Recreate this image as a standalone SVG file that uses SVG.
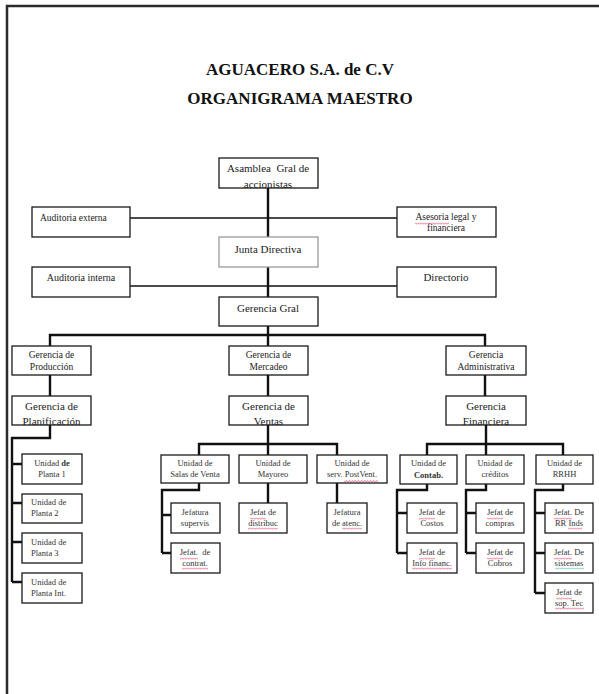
<svg xmlns="http://www.w3.org/2000/svg" width="599" height="694" viewBox="0 0 599 694">
<style>
.box{fill:#fff;stroke:#1a1a1a;stroke-width:1.3}
.gray{stroke:#9a9a9a}
.t{font-family:"Liberation Serif","Times New Roman",serif;fill:#222;text-anchor:middle}
.l{text-anchor:start}
.f8{font-size:8.5px;fill:#333}
.f9{font-size:9.5px}
.f10{font-size:10px}
.f11{font-size:11px}
.title{font-family:"Liberation Serif","Times New Roman",serif;font-weight:bold;font-size:17px;fill:#111;text-anchor:middle}
.c{fill:none;stroke:#111;stroke-width:2.4}
.thin{stroke-width:1.3}
.sq{fill:url(#wv)}
.sqg{fill:url(#wg)}
</style>
<defs>
<pattern id="wv" x="0" y="0" width="3" height="2.5" patternUnits="userSpaceOnUse"><path d="M0,2 L1.5,0.5 L3,2" fill="none" stroke="#e0285a" stroke-width="0.7"/></pattern>
<pattern id="wg" x="0" y="0" width="3" height="2.5" patternUnits="userSpaceOnUse"><path d="M0,2 L1.5,0.5 L3,2" fill="none" stroke="#20b0a0" stroke-width="0.7"/></pattern>
<clipPath id="cA"><rect x="219" y="158" width="99" height="30"/></clipPath>
<clipPath id="cP"><rect x="12" y="396" width="79" height="29"/></clipPath>
<clipPath id="cV"><rect x="229" y="396" width="79" height="29"/></clipPath>
<clipPath id="cF"><rect x="446" y="396" width="80" height="29"/></clipPath>
</defs>
<rect width="599" height="694" fill="#fff"/>
<path d="M7,694 V6 H599" fill="none" stroke="#2a2a2a" stroke-width="2.5"/>
<g id="title">
<text class="title" x="300" y="75">AGUACERO S.A. de C.V</text>
<text class="title" x="300" y="104">ORGANIGRAMA MAESTRO</text>
</g>
<g id="connectors">
<path class="c thin" d="M130,218 H397 M130,286 H397"/>
<path class="c" d="M268,188 V237 M268,267 V297 M268,326 V335 M50,346 V335 H485 V346 M268,335 V346"/>
<path class="c" d="M50,375 V396 M268,375 V396 M485,375 V396"/>
<path class="c" d="M50,425 V438 H12 V582 M12,464 H22 M12,503 H22 M12,542 H22 M12,582 H22"/>
<path class="c" d="M268,425 V444 M199,455 V444 H337 V455 M268,444 V455"/>
<path class="c" d="M199,483 V490 H162 V553 M162,515 H171 M162,553 H171 M268,483 V503 M337,483 V503"/>
<path class="c" d="M486,425 V444 M427,455 V444 H563 V455 M486,444 V455"/>
<path class="c" d="M427,484 V490 H397 V553 M397,513 H407 M397,553 H407"/>
<path class="c" d="M486,484 V490 H466 V553 M466,513 H476 M466,553 H476"/>
<path class="c" d="M563,484 V490 H535 V593 M535,513 H545 M535,553 H545 M535,593 H545"/>
</g>
<g id="asamblea"><rect class="box" x="219" y="158" width="99" height="30"/><g clip-path="url(#cA)"><text class="t f11" x="268" y="172" xml:space="preserve">Asamblea  Gral de</text><text class="t f11" x="268" y="188">accionistas</text></g></g>
<g id="auditoria-externa"><rect class="box" x="32" y="207" width="98" height="30"/><text class="t l f9" x="40" y="221">Auditoria externa</text></g>
<g id="asesoria"><rect class="box" x="397" y="207" width="99" height="30"/><text class="t f9" x="446" y="220">Asesoria legal y</text><text class="t f9" x="446" y="231">financiera</text><rect class="sq" x="415" y="222.5" width="34" height="2.5"/></g>
<g id="junta"><rect class="box gray" x="219" y="237" width="99" height="30"/><text class="t f11" x="268" y="253">Junta Directiva</text></g>
<g id="auditoria-interna"><rect class="box" x="32" y="267" width="98" height="30"/><text class="t f10" x="81" y="281">Auditoria interna</text></g>
<g id="directorio"><rect class="box" x="397" y="267" width="99" height="30"/><text class="t f11" x="446" y="281">Directorio</text></g>
<g id="gerencia-gral"><rect class="box" x="219" y="297" width="99" height="29"/><text class="t f11" x="268" y="312">Gerencia Gral</text></g>
<g id="produccion"><rect class="box" x="12" y="346" width="79" height="29"/><text class="t f9" x="51.5" y="358">Gerencia de</text><text class="t f9" x="51.5" y="370">Producción</text></g>
<g id="mercadeo"><rect class="box" x="229" y="346" width="79" height="29"/><text class="t f9" x="268.5" y="358">Gerencia de</text><text class="t f9" x="268.5" y="370">Mercadeo</text></g>
<g id="administrativa"><rect class="box" x="446" y="346" width="80" height="29"/><text class="t f9" x="486" y="358">Gerencia</text><text class="t f9" x="486" y="370">Administrativa</text></g>
<g id="planificacion"><rect class="box" x="12" y="396" width="79" height="29"/><g clip-path="url(#cP)"><text class="t f11" x="51.5" y="410">Gerencia de</text><text class="t f11" x="51.5" y="425">Planificación</text></g></g>
<g id="ventas"><rect class="box" x="229" y="396" width="79" height="29"/><g clip-path="url(#cV)"><text class="t f11" x="268.5" y="410">Gerencia de</text><text class="t f11" x="268.5" y="425">Ventas</text></g></g>
<g id="financiera"><rect class="box" x="446" y="396" width="80" height="29"/><g clip-path="url(#cF)"><text class="t f11" x="486" y="410">Gerencia</text><text class="t f11" x="486" y="425">Financiera</text></g></g>
<g id="planta1"><rect class="box" x="22" y="454" width="60" height="30"/><text class="t f8" x="52" y="466">Unidad <tspan font-weight="bold">de</tspan></text><text class="t f8" x="52" y="477">Planta 1</text></g>
<g id="planta2"><rect class="box" x="22" y="494" width="60" height="29"/><text class="t l f8" x="31" y="505">Unidad de</text><text class="t l f8" x="31" y="516">Planta 2</text></g>
<g id="planta3"><rect class="box" x="22" y="533" width="60" height="30"/><text class="t l f8" x="31" y="545">Unidad de</text><text class="t l f8" x="31" y="556">Planta 3</text></g>
<g id="planta-int"><rect class="box" x="22" y="573" width="60" height="30"/><text class="t l f8" x="31" y="585">Unidad de</text><text class="t l f8" x="31" y="596">Planta Int.</text></g>
<g id="salas"><rect class="box" x="161" y="455" width="68" height="28"/><text class="t f8" x="195" y="466">Unidad de</text><text class="t f8" x="195" y="477">Salas de Venta</text></g>
<g id="mayoreo"><rect class="box" x="239" y="455" width="68" height="28"/><text class="t f8" x="273" y="466">Unidad de</text><text class="t f8" x="273" y="477">Mayoreo</text></g>
<g id="postventa"><rect class="box" x="317" y="455" width="70" height="28"/><text class="t f8" x="352" y="466">Unidad de</text><text class="t f8" x="352" y="477">serv. PostVent.</text><rect class="sq" x="344" y="480" width="34" height="2.5"/></g>
<g id="supervis"><rect class="box" x="171" y="503" width="49" height="30"/><text class="t f8" x="195" y="515">Jefatura</text><text class="t f8" x="195" y="526">supervis</text></g>
<g id="contrat"><rect class="box" x="171" y="543" width="49" height="30"/><text class="t f8" x="195" y="555" xml:space="preserve">Jefat.  de</text><text class="t f8" x="195" y="566">contrat.</text><rect class="sq" x="180" y="557.5" width="18" height="2.5"/><rect class="sq" x="182" y="567.5" width="26" height="2.5"/></g>
<g id="distribuc"><rect class="box" x="239" y="503" width="48" height="30"/><text class="t f8" x="263" y="515">Jefat de</text><text class="t f8" x="263" y="526">distribuc</text><rect class="sq" x="250" y="517.5" width="16" height="2.5"/><rect class="sq" x="248" y="527.5" width="30" height="2.5"/></g>
<g id="atenc"><rect class="box" x="327" y="503" width="40" height="30"/><text class="t f8" x="347" y="515">Jefatura</text><text class="t f8" x="347" y="526">de atenc.</text><rect class="sq" x="342" y="527.5" width="20" height="2.5"/></g>
<g id="contab"><rect class="box" x="400" y="455" width="57" height="29"/><text class="t f8" x="428.5" y="466">Unidad de</text><text class="t f8" x="428.5" y="478" font-weight="bold">Contab.</text></g>
<g id="creditos"><rect class="box" x="466" y="455" width="58" height="29"/><text class="t f8" x="495" y="466">Unidad de</text><text class="t f8" x="495" y="477">créditos</text></g>
<g id="rrhh"><rect class="box" x="536" y="455" width="57" height="29"/><text class="t f8" x="564.5" y="466">Unidad de</text><text class="t f8" x="564.5" y="477">RRHH</text></g>
<g id="costos"><rect class="box" x="407" y="503" width="50" height="30"/><text class="t f8" x="432" y="515">Jefat de</text><text class="t f8" x="432" y="526">Costos</text><rect class="sq" x="419" y="517.5" width="16" height="2.5"/></g>
<g id="info-financ"><rect class="box" x="407" y="543" width="50" height="30"/><text class="t f8" x="432" y="555">Jefat de</text><text class="t f8" x="432" y="566">Info financ.</text><rect class="sq" x="419" y="557.5" width="16" height="2.5"/><rect class="sq" x="412" y="567.5" width="40" height="2.5"/></g>
<g id="compras"><rect class="box" x="476" y="503" width="48" height="30"/><text class="t f8" x="500" y="515">Jefat de</text><text class="t f8" x="500" y="526">compras</text><rect class="sq" x="487" y="517.5" width="16" height="2.5"/></g>
<g id="cobros"><rect class="box" x="476" y="543" width="48" height="30"/><text class="t f8" x="500" y="555">Jefat de</text><text class="t f8" x="500" y="566">Cobros</text><rect class="sq" x="487" y="557.5" width="16" height="2.5"/></g>
<g id="rr-inds"><rect class="box" x="545" y="503" width="48" height="30"/><text class="t f8" x="569" y="515">Jefat. De</text><text class="t f8" x="569" y="526">RR Inds</text><rect class="sq" x="554" y="517.5" width="18" height="2.5"/><rect class="sq" x="568" y="527.5" width="14" height="2.5"/></g>
<g id="sistemas"><rect class="box" x="545" y="543" width="48" height="30"/><text class="t f8" x="569" y="555">Jefat. De</text><text class="t f8" x="569" y="566">sistemas</text><rect class="sq" x="554" y="557.5" width="18" height="2.5"/><rect class="sqg" x="555" y="567.5" width="29" height="2.5"/></g>
<g id="sop-tec"><rect class="box" x="545" y="583" width="48" height="30"/><text class="t f8" x="569" y="595">Jefat de</text><text class="t f8" x="569" y="606">sop. Tec</text><rect class="sq" x="556" y="597.5" width="16" height="2.5"/><rect class="sq" x="555" y="607.5" width="29" height="2.5"/></g>
</svg>
